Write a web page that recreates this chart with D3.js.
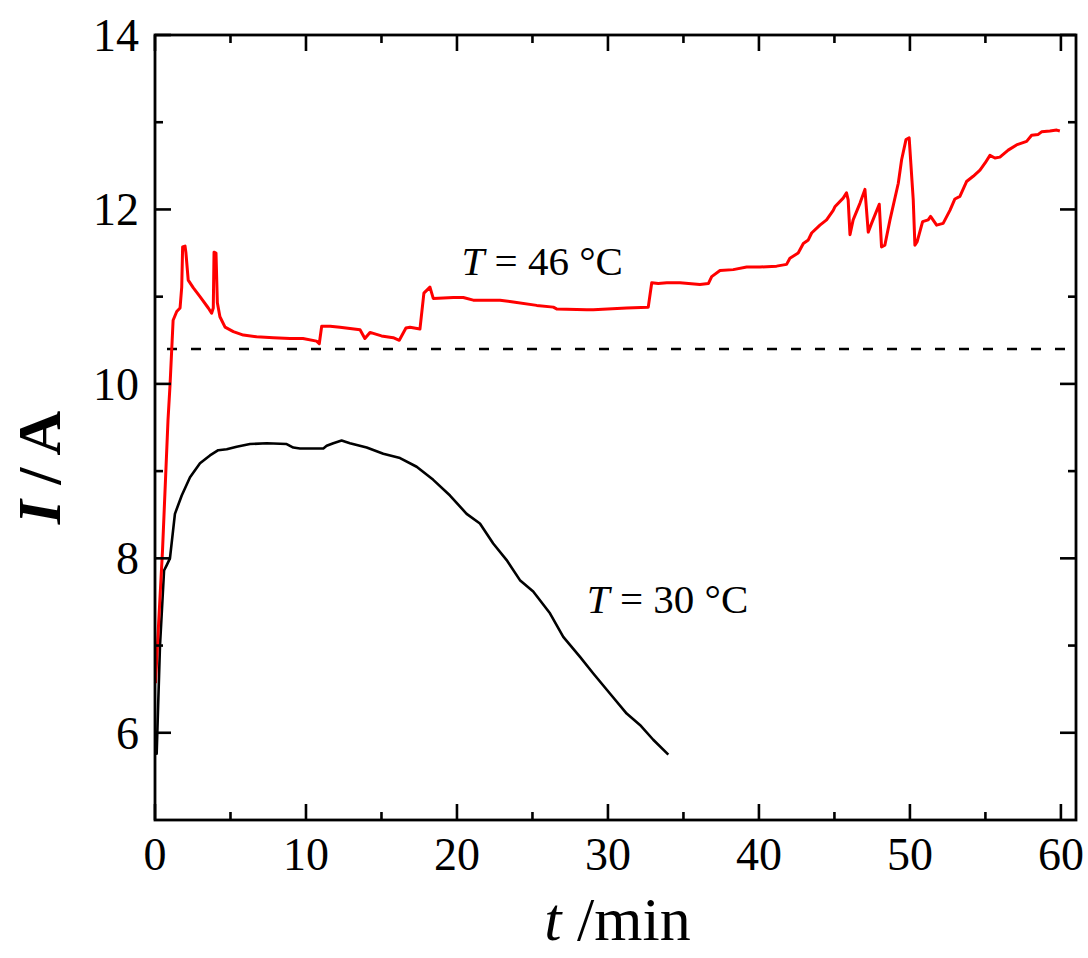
<!DOCTYPE html>
<html>
<head>
<meta charset="utf-8">
<script src="https://cdn.jsdelivr.net/npm/d3@7"></script>
<style>
  html, body { margin: 0; padding: 0; background: #fff; }
  svg { display: block; }
  text { font-family: "Liberation Serif", "Times New Roman", serif; fill: #000; }
</style>
</head>
<body>
<svg id="chart" width="1088" height="958"></svg>
<script>
// ---- data ----
const t46 = [0.03, 0.5, 0.86, 1.0, 1.2, 1.44, 1.66, 1.77, 1.83, 1.99, 2.05, 2.2, 2.54, 2.98, 3.53, 3.75, 3.86, 3.91, 4.04, 4.13, 4.3, 4.64, 5.19, 5.85, 6.73, 7.84, 8.94, 9.8, 10.7, 10.88, 11.04, 11.6, 12.25, 13.58, 13.9, 14.24, 15.0, 15.78, 16.18, 16.62, 16.89, 17.55, 17.81, 18.21, 18.43, 19.76, 20.42, 21.08, 22.85, 23.73, 25.28, 26.38, 26.6, 28.59, 29.03, 31.24, 32.67, 32.9, 33.33, 33.9, 34.77, 36.09, 36.65, 36.87, 37.42, 38.3, 39.19, 40.07, 41.17, 41.83, 42.05, 42.6, 42.94, 43.27, 43.49, 44.04, 44.48, 44.92, 45.03, 45.58, 45.8, 45.91, 46.03, 46.24, 46.69, 47.02, 47.24, 47.46, 47.97, 48.12, 48.34, 48.68, 49.23, 49.45, 49.74, 49.95, 50.22, 50.33, 50.48, 50.84, 51.21, 51.37, 51.77, 52.2, 52.65, 52.98, 53.31, 53.75, 54.19, 54.64, 54.97, 55.3, 55.63, 55.96, 56.51, 57.06, 57.73, 58.06, 58.5, 58.72, 59.27, 59.72, 59.93];
const I46 = [6.57, 8.1, 9.58, 10.0, 10.73, 10.83, 10.87, 11.11, 11.57, 11.58, 11.5, 11.19, 11.1, 11.0, 10.87, 10.81, 10.87, 11.51, 11.5, 10.93, 10.77, 10.65, 10.6, 10.56, 10.54, 10.53, 10.52, 10.52, 10.49, 10.46, 10.66, 10.66, 10.65, 10.62, 10.52, 10.59, 10.55, 10.53, 10.5, 10.64, 10.65, 10.63, 11.04, 11.11, 10.98, 10.99, 10.99, 10.96, 10.96, 10.94, 10.9, 10.88, 10.86, 10.85, 10.85, 10.87, 10.88, 11.16, 11.15, 11.16, 11.16, 11.14, 11.15, 11.23, 11.3, 11.31, 11.34, 11.34, 11.35, 11.37, 11.44, 11.5, 11.61, 11.65, 11.73, 11.82, 11.88, 11.99, 12.03, 12.13, 12.19, 12.11, 11.71, 11.88, 12.07, 12.23, 11.74, 11.84, 12.06, 11.57, 11.59, 11.88, 12.3, 12.57, 12.8, 12.82, 12.11, 11.59, 11.63, 11.86, 11.88, 11.92, 11.82, 11.84, 11.99, 12.12, 12.15, 12.32, 12.38, 12.45, 12.53, 12.62, 12.59, 12.6, 12.68, 12.74, 12.78, 12.85, 12.86, 12.89, 12.9, 12.91, 12.9];

const t30 = [0.05, 0.11, 0.33, 0.6, 0.77, 0.99, 1.32, 1.77, 2.32, 2.98, 3.64, 4.19, 4.75, 5.41, 6.29, 7.4, 8.72, 9.16, 9.6, 10.93, 11.15, 11.37, 11.81, 12.36, 12.91, 14.02, 15.12, 16.23, 17.33, 18.43, 19.54, 20.64, 21.52, 22.4, 23.29, 24.17, 25.05, 26.16, 27.04, 28.15, 29.03, 30.13, 31.24, 32.12, 33.0, 34.0];
const I30 = [6.0, 5.76, 7.0, 7.86, 7.92, 8.0, 8.51, 8.72, 8.93, 9.09, 9.18, 9.24, 9.25, 9.28, 9.31, 9.32, 9.31, 9.27, 9.26, 9.26, 9.26, 9.29, 9.32, 9.35, 9.32, 9.27, 9.2, 9.15, 9.05, 8.9, 8.72, 8.51, 8.4, 8.17, 7.98, 7.75, 7.62, 7.37, 7.1, 6.87, 6.68, 6.45, 6.22, 6.09, 5.92, 5.75];

const refLevel = [10.4];
const xMajorTicks = [0, 10, 20, 30, 40, 50, 60];
const xMinorTicks = [5, 15, 25, 35, 45, 55];
const yMajorTicks = [6, 8, 10, 12, 14];
const yMinorTicks = [7, 9, 11, 13];
const labels = [
  { t: 20.3, I: 11.25, temp: "46" },
  { t: 28.6, I: 7.37, temp: "30" }
];

// ---- layout ----
const W = 1088, H = 958;
const margin = { left: 155, right: 12, top: 35, bottom: 138 };
const svg = d3.select("#chart");
const x = d3.scaleLinear().domain([0, 61]).range([margin.left, W - margin.right]);
const y = d3.scaleLinear().domain([5, 14]).range([H - margin.bottom, margin.top]);
const x0 = x.range()[0], x1 = x.range()[1], y0 = y.range()[0], y1 = y.range()[1];

const majorLen = 16, minorLen = 8;
const g = svg.append("g");

// reference dashed line
g.selectAll("line.ref").data(refLevel).enter().append("line")
  .attr("x1", x0).attr("x2", x1)
  .attr("y1", d => y(d)).attr("y2", d => y(d))
  .attr("stroke", "#000").attr("stroke-width", 2.6)
  .attr("stroke-dasharray", "10,14").attr("stroke-dashoffset", -12);

// lines
const line = d3.line().x(d => x(d[0])).y(d => y(d[1]));
g.append("path").datum(d3.zip(t30, I30)).attr("d", line)
  .attr("fill", "none").attr("stroke", "#000").attr("stroke-width", 2.6)
  .attr("stroke-linejoin", "round");
g.append("path").datum(d3.zip(t46, I46)).attr("d", line)
  .attr("fill", "none").attr("stroke", "#ff0000").attr("stroke-width", 3)
  .attr("stroke-linejoin", "round");

// ticks (inward, all four sides)
const tk = svg.append("g").attr("stroke", "#000").attr("stroke-width", 2.6);
function xt(vals, len) {
  vals.forEach(v => {
    tk.append("line").attr("x1", x(v)).attr("x2", x(v)).attr("y1", y0).attr("y2", y0 - len);
    tk.append("line").attr("x1", x(v)).attr("x2", x(v)).attr("y1", y1).attr("y2", y1 + len);
  });
}
function yt(vals, len) {
  vals.forEach(v => {
    tk.append("line").attr("y1", y(v)).attr("y2", y(v)).attr("x1", x0).attr("x2", x0 + len);
    tk.append("line").attr("y1", y(v)).attr("y2", y(v)).attr("x1", x1).attr("x2", x1 - len);
  });
}
xt(xMajorTicks, majorLen); xt(xMinorTicks, minorLen);
yt(yMajorTicks, majorLen); yt(yMinorTicks, minorLen);

// frame
svg.append("rect").attr("x", x0).attr("y", y1).attr("width", x1 - x0).attr("height", y0 - y1)
  .attr("fill", "none").attr("stroke", "#000").attr("stroke-width", 2.8);

// tick labels
svg.selectAll("text.xl").data(xMajorTicks).enter().append("text")
  .attr("x", d => x(d)).attr("y", y0 + 50)
  .attr("text-anchor", "middle").attr("font-size", 46).text(d => d);
svg.selectAll("text.yl").data(yMajorTicks).enter().append("text")
  .attr("x", x0 - 16).attr("y", d => y(d) + 16)
  .attr("text-anchor", "end").attr("font-size", 46).text(d => d);

// axis titles
const xt1 = svg.append("text").attr("x", (x0 + x1) / 2 + 2).attr("y", 940)
  .attr("text-anchor", "middle").attr("font-size", 62);
xt1.append("tspan").attr("font-style", "italic").text("t");
xt1.append("tspan").text(" /min");

const yt1 = svg.append("text")
  .attr("transform", `translate(60, ${(y0 + y1) / 2 + 40}) rotate(-90)`)
  .attr("text-anchor", "middle").attr("font-size", 62).attr("font-weight", "bold");
yt1.append("tspan").attr("font-style", "italic").text("I");
yt1.append("tspan").text(" / A");

// annotations
labels.forEach(l => {
  const tx = svg.append("text").attr("x", x(l.t)).attr("y", y(l.I)).attr("font-size", 41);
  tx.append("tspan").attr("font-style", "italic").text("T");
  tx.append("tspan").text(" = " + l.temp + " \u00B0C");
});
</script>
</body>
</html>
